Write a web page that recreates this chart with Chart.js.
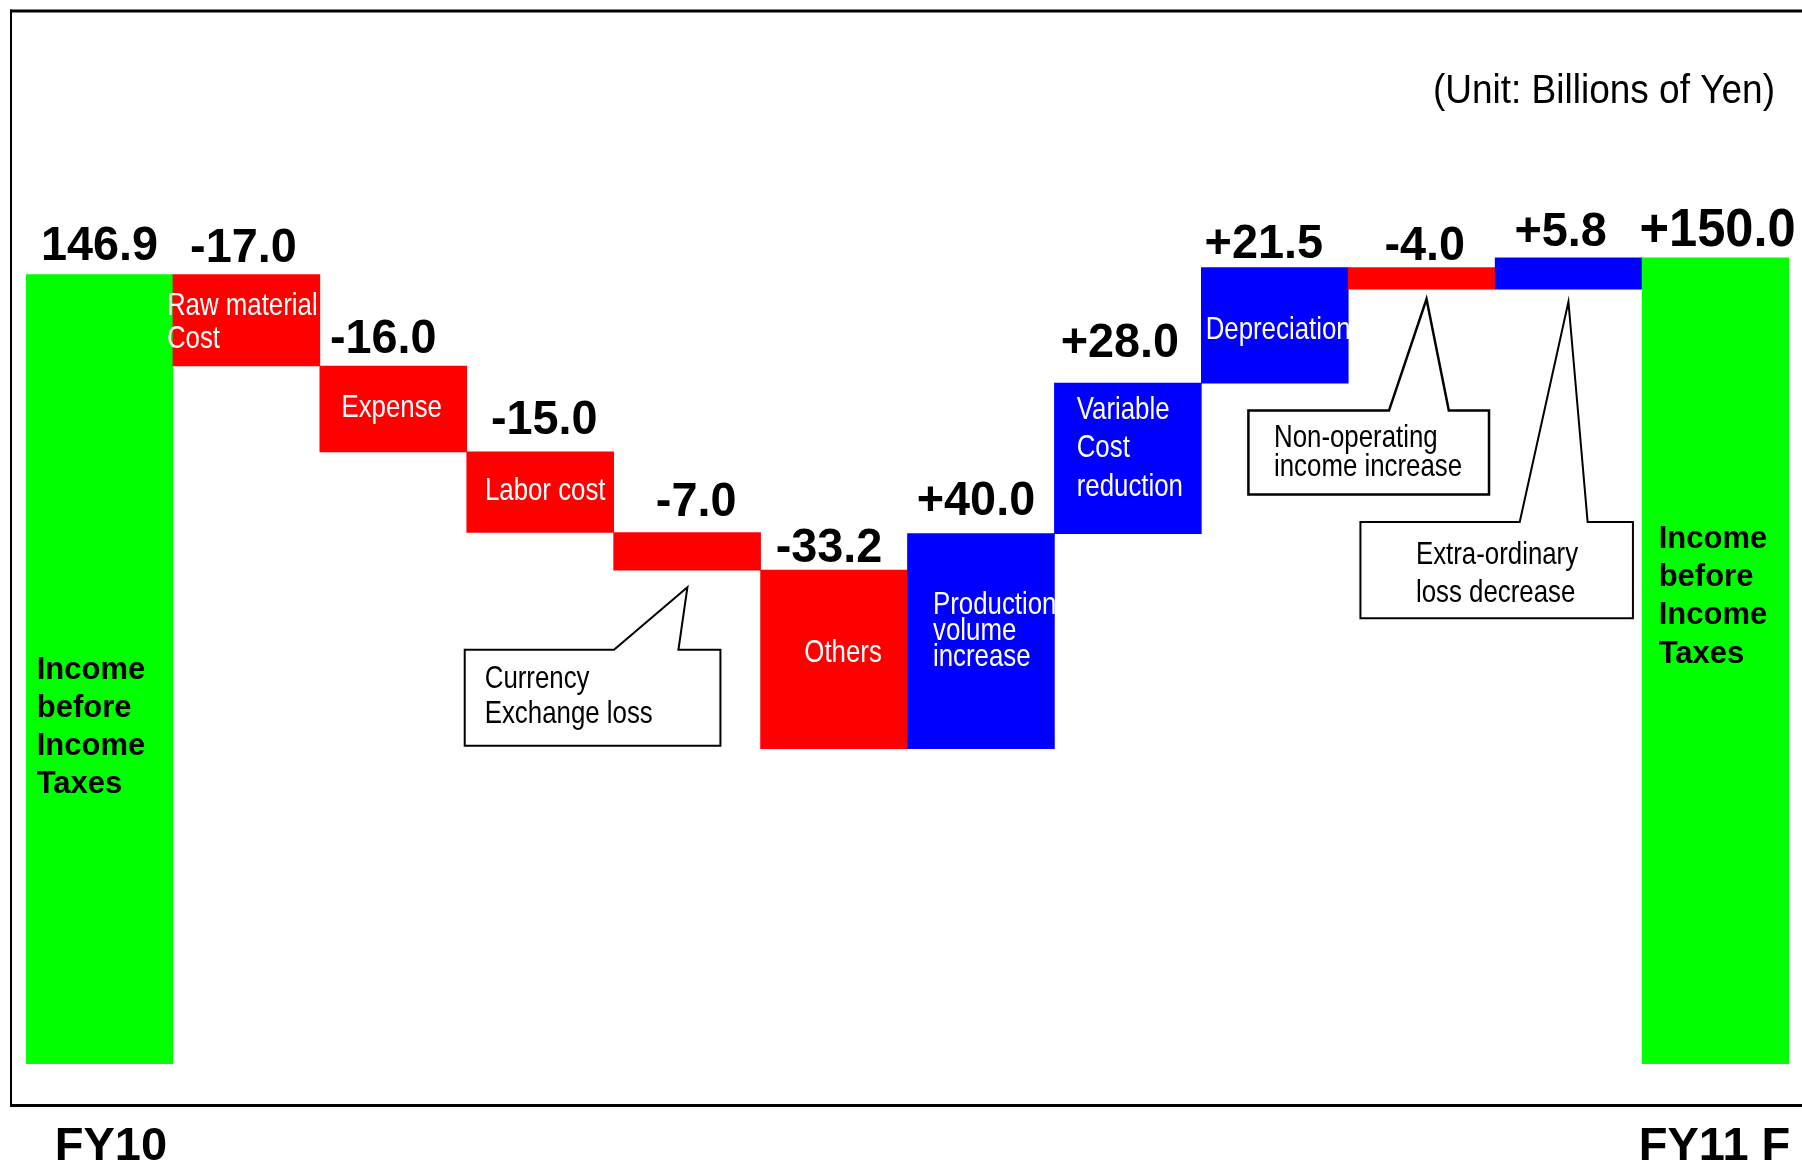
<!DOCTYPE html>
<html>
<head>
<meta charset="utf-8">
<title>Income before Income Taxes FY10 to FY11 F</title>
<script src="https://cdn.jsdelivr.net/npm/chart.js@4.4.0/dist/chart.umd.min.js"></script>
<style>
  html, body { margin: 0; padding: 0; background: #ffffff; }
  canvas { display: block; }
</style>
</head>
<body>
<canvas id="bridge" width="1802" height="1164" style="width:1802px;height:1164px"></canvas>
<script>
// ---- data (billions of yen) ----
const categories = [
  'FY10', 'Raw material Cost', 'Expense', 'Labor cost', 'Currency Exchange loss', 'Others',
  'Production volume increase', 'Variable Cost reduction', 'Depreciation',
  'Non-operating income increase', 'Extra-ordinary loss decrease', 'FY11 F'
];
const changes = [146.9, -17.0, -16.0, -15.0, -7.0, -33.2, 40.0, 28.0, 21.5, -4.0, 5.8, 150.0];
const isTotal = [true, false, false, false, false, false, false, false, false, false, false, true];
const valueLabels = ['146.9', '-17.0', '-16.0', '-15.0', '-7.0', '-33.2', '+40.0', '+28.0', '+21.5', '-4.0', '+5.8', '+150.0'];
const tickLabels = ['FY10', '', '', '', '', '', '', '', '', '', '', 'FY11 F'];
const barCaptions = [
  ['Income', 'before', 'Income', 'Taxes'],
  ['Raw material', 'Cost'],
  ['Expense'],
  ['Labor cost'],
  null,
  ['Others'],
  ['Production', 'volume', 'increase'],
  ['Variable', 'Cost', 'reduction'],
  ['Depreciation'],
  null,
  null,
  ['Income', 'before', 'Income', 'Taxes']
];
const calloutTexts = [
  { bar: 4, lines: ['Currency', 'Exchange loss'] },
  { bar: 9, lines: ['Non-operating', 'income increase'] },
  { bar: 10, lines: ['Extra-ordinary', 'loss decrease'] }
];
const unitText = '(Unit: Billions of Yen)';

// floating [start, end] ranges of the bridge
let running = 0;
const ranges = changes.map((v, i) => {
  if (isTotal[i]) { running = v; return [0, v]; }
  const start = running;
  running = Math.round((running + v) * 10) / 10;
  return [start, running];
});

// ---- styling ----
const GREEN = '#00ff00', RED = '#ff0000', BLUE = '#0000ff';
const barColors = changes.map((v, i) => isTotal[i] ? GREEN : (v < 0 ? RED : BLUE));

// value label nudges [dx from bar centre, baseline dy from bar top]
const valueNudge = [[0,-15],[-3,-13],[-10,-13],[4,-18],[9,-17],[-5,-8],[-5,-19],[-8,-26],[-11,-10],[3,-8],[-8,-12],[2,-12]];
const valueSize = [49,49,49,49,49,49,49,49,49,49,49,53];

// caption layout: align, dx (from bar left or centre), first baseline dy from bar top, line step, kind
const captionStyle = [
  { align: 'left', dx: 10.7, dy: 404.3, step: 38.1, kind: 'bold' },
  { align: 'left', dx: -6, dy: 40.3, step: 33, kind: 'narrow' },
  { align: 'center', dx: -1.6, dy: 51.3, step: 33, kind: 'narrow' },
  { align: 'center', dx: 5, dy: 48, step: 33, kind: 'narrow' },
  null,
  { align: 'center', dx: 9, dy: 92, step: 33, kind: 'narrow' },
  { align: 'left', dx: 25.5, dy: 80.4, step: 26, kind: 'narrow' },
  { align: 'left', dx: 22.3, dy: 35.8, step: 38.5, kind: 'narrow' },
  { align: 'left', dx: 4.3, dy: 71.4, step: 33, kind: 'narrow' },
  null,
  null,
  { align: 'left', dx: 16.6, dy: 289.6, step: 38.4, kind: 'bold' }
];

// callout geometry relative to the tip (tip is relative to bar centre / bar bottom)
const calloutShape = [
  { tip: [0.3, 17], box: [-222.7, 62.7, 33, 158.7], base: [-73.4, -9], text: [-202.7, 100.7, 35], lw: 2 },
  { tip: [4.8, 10], box: [-178.1, 111.5, 62.5, 195.3], base: [-37.5, 22.3], text: [-152.5, 147.7, 29.3], lw: 2.5 },
  { tip: [-0.2, 12.6], box: [-208, 220.3, 64.5, 316.6], base: [-48.7, 19.2], text: [-152.5, 262.3, 37.7], lw: 2 }
];

const tickNudge = [11.4, 0, 0, 0, 0, 0, 0, 0, 0, 0, 0, -1];

let narrowFamily = null;
function pickNarrow(ctx) {
  if (narrowFamily) return narrowFamily;
  const probe = 'Raw material Cost reduction';
  ctx.save();
  ctx.font = '40px "Liberation Sans Narrow", monospace';
  const a = ctx.measureText(probe).width;
  ctx.font = '40px monospace';
  const b = ctx.measureText(probe).width;
  ctx.restore();
  narrowFamily = (Math.abs(a - b) > 0.5)
    ? { family: '"Liberation Sans Narrow", "Arial Narrow"', sx: 1 }
    : { family: '"Liberation Sans", Arial, sans-serif', sx: 0.82 };
  return narrowFamily;
}

function putText(ctx, text, x, y, font, color, align, sx) {
  ctx.save();
  ctx.font = font;
  ctx.fillStyle = color;
  ctx.textBaseline = 'alphabetic';
  ctx.textAlign = align;
  ctx.translate(x, y);
  ctx.scale(sx, 1);
  ctx.fillText(text, 0, 0);
  ctx.restore();
}

function barBox(el) {
  const p = el.getProps(['x', 'y', 'base', 'width'], true);
  return {
    cx: p.x, left: p.x - p.width / 2, right: p.x + p.width / 2,
    top: Math.min(p.y, p.base), bottom: Math.max(p.y, p.base)
  };
}

const framePlugin = {
  id: 'frame',
  beforeDraw(chart) {
    const ctx = chart.ctx;
    ctx.save();
    ctx.fillStyle = '#ffffff';
    ctx.fillRect(0, 0, chart.width, chart.height);
    ctx.fillStyle = '#000000';
    ctx.fillRect(10, 9.5, chart.width - 10, 3);      // top rule
    ctx.fillRect(10, 9.5, 2, 1097);                  // left rule
    ctx.fillRect(10, 1104, chart.width - 10, 3);     // bottom rule
    ctx.restore();
  }
};

const annotatePlugin = {
  id: 'annotate',
  afterDatasetsDraw(chart) {
    const ctx = chart.ctx;
    const meta = chart.getDatasetMeta(0);
    const narrow = pickNarrow(ctx);
    const boldFont = (s) => 'bold ' + s + 'px "Liberation Sans", Arial, sans-serif';
    const narrowFont = (s) => s + 'px ' + narrow.family;

    // values above each bar
    meta.data.forEach((el, i) => {
      const b = barBox(el);
      const [dx, dy] = valueNudge[i];
      putText(ctx, valueLabels[i], b.cx + dx, b.top + dy, boldFont(valueSize[i]), '#000000', 'center', 0.955);
    });

    // captions inside the bars
    meta.data.forEach((el, i) => {
      const lines = barCaptions[i];
      const st = captionStyle[i];
      if (!lines || !st) return;
      const b = barBox(el);
      const x0 = st.align === 'center' ? b.cx + st.dx : b.left + st.dx;
      lines.forEach((line, k) => {
        const y = b.top + st.dy + k * st.step;
        if (st.kind === 'bold') {
          putText(ctx, line, x0, y, boldFont(31), '#000000', st.align, 1);
        } else {
          putText(ctx, line, x0, y, narrowFont(31.5), '#ffffff', st.align, narrow.sx);
        }
      });
    });

    // callouts
    calloutTexts.forEach((c, n) => {
      const s = calloutShape[n];
      const b = barBox(meta.data[c.bar]);
      const tx = b.cx + s.tip[0], ty = b.bottom + s.tip[1];
      const [l, t, r, btm] = s.box;
      ctx.save();
      ctx.beginPath();
      ctx.moveTo(tx + l, ty + t);
      ctx.lineTo(tx + s.base[0], ty + t);
      ctx.lineTo(tx, ty);
      ctx.lineTo(tx + s.base[1], ty + t);
      ctx.lineTo(tx + r, ty + t);
      ctx.lineTo(tx + r, ty + btm);
      ctx.lineTo(tx + l, ty + btm);
      ctx.closePath();
      ctx.fillStyle = '#ffffff';
      ctx.fill();
      ctx.lineWidth = s.lw;
      ctx.lineJoin = 'miter';
      ctx.strokeStyle = '#000000';
      ctx.stroke();
      ctx.restore();
      c.lines.forEach((line, k) => {
        putText(ctx, line, tx + s.text[0], ty + s.text[1] + k * s.text[2], narrowFont(31.5), '#000000', 'left', narrow.sx);
      });
    });

    // period labels under the frame
    const xs = chart.scales.x;
    tickLabels.forEach((lab, i) => {
      if (!lab) return;
      putText(ctx, lab, xs.getPixelForValue(i) + tickNudge[i], 1160, boldFont(47), '#000000', 'center', 1);
    });

    // unit note
    putText(ctx, unitText, 1775, 103, '40px "Liberation Sans", Arial, sans-serif', '#000000', 'right', 0.925);
  }
};

new Chart(document.getElementById('bridge'), {
  type: 'bar',
  data: {
    labels: categories,
    datasets: [{
      data: ranges,
      backgroundColor: barColors,
      borderWidth: 0,
      barPercentage: 1,
      categoryPercentage: 1
    }]
  },
  options: {
    responsive: false,
    animation: false,
    devicePixelRatio: 1,
    layout: { padding: { left: 26, right: 13, top: 43, bottom: 100 } },
    plugins: { legend: { display: false }, tooltip: { enabled: false } },
    scales: {
      x: { display: false },
      y: { display: false, min: 0, max: 190 }
    }
  },
  plugins: [framePlugin, annotatePlugin]
});
</script>
</body>
</html>
